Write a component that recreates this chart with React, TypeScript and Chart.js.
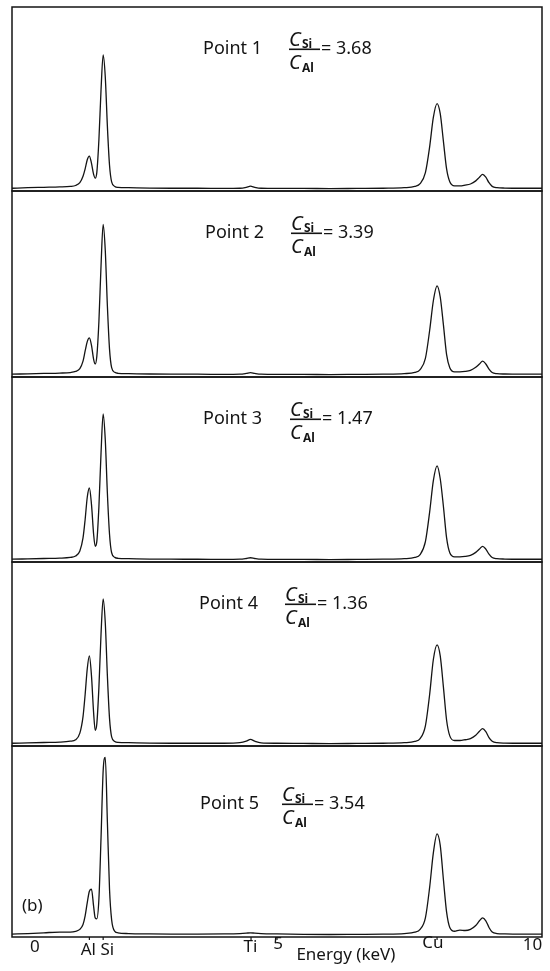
import React, { useEffect, useRef } from 'react';
import { Chart, registerables } from 'chart.js';

Chart.register(...registerables);

// Energy grid (keV)
const energies = [
  0, 0.3, 0.6, 0.9, 1.1, 1.2, 1.28, 1.34, 1.38, 1.42,
  1.46, 1.5, 1.54, 1.57, 1.6,
  1.64, 1.68, 1.72, 1.76, 1.8,
  1.84, 1.88, 1.94, 2.0, 2.2,
  2.6, 3.0, 3.5, 4.0, 4.3,
  4.42, 4.5, 4.58, 4.7, 5.0,
  5.5, 6.0, 6.5, 7.0, 7.4,
  7.6, 7.7, 7.8, 7.88, 7.95,
  8.02, 8.08, 8.14, 8.2, 8.26,
  8.35, 8.45, 8.55, 8.65, 8.75,
  8.82, 8.88, 8.94, 9.0, 9.06,
  9.15, 9.3, 9.6, 10,
];

// Intensities (% of panel height)
const point1 = [
  1.5, 1.8, 2.0, 2.2, 2.5, 3.0, 4.5, 8, 12, 17,
  19, 15, 9, 7, 10,
  28, 55, 74, 62, 35,
  14, 5, 2.5, 2.0, 1.8,
  1.6, 1.5, 1.5, 1.4, 1.5,
  2.0, 2.6, 2.0, 1.5, 1.4,
  1.4, 1.3, 1.4, 1.5, 1.8,
  2.5, 4, 10, 24, 40,
  47.5, 42, 27, 12, 5,
  2.8, 2.8, 3.2, 3.8, 5.5,
  7.5, 9, 7.5, 4.5, 2.5,
  1.8, 1.6, 1.5, 1.5,
];
const point2 = [
  1.5, 1.7, 1.9, 2.1, 2.4, 3.0, 4.5, 8.5, 14, 19,
  21, 17, 9.5, 7, 11,
  30, 60, 82, 68, 38,
  15, 5, 2.5, 2.0, 1.8,
  1.6, 1.5, 1.5, 1.4, 1.5,
  1.9, 2.3, 1.9, 1.5, 1.4,
  1.4, 1.3, 1.4, 1.5, 1.8,
  2.5, 4, 10, 25, 41,
  49, 43, 28, 12, 5,
  2.8, 2.8, 3.0, 3.6, 5.2,
  7.0, 8.5, 7.0, 4.2, 2.4,
  1.8, 1.6, 1.5, 1.5,
];
const point3 = [
  1.5, 1.7, 1.9, 2.1, 2.5, 3.2, 6, 13, 23, 35,
  40, 31, 15, 8.5, 11,
  30, 59, 80, 66, 37,
  15, 5, 2.5, 2.0, 1.8,
  1.6, 1.5, 1.5, 1.4, 1.5,
  1.9, 2.3, 1.9, 1.5, 1.4,
  1.4, 1.3, 1.4, 1.5, 1.8,
  2.5, 4, 11, 27, 44,
  52, 45, 30, 13, 5,
  2.8, 2.8, 3.0, 3.6, 5.2,
  7.0, 8.5, 7.0, 4.2, 2.4,
  1.8, 1.6, 1.5, 1.5,
];
const point4 = [
  1.5, 1.7, 1.9, 2.1, 2.6, 3.4, 7, 16, 28, 42,
  49, 38, 18, 8.5, 12,
  32, 61, 80, 67, 38,
  15, 5, 2.5, 2.0, 1.8,
  1.6, 1.5, 1.5, 1.5, 1.8,
  2.6, 3.6, 2.6, 1.7, 1.5,
  1.4, 1.3, 1.4, 1.5, 1.8,
  2.5, 4, 11, 28, 47,
  55, 49, 32, 14, 5.5,
  3.0, 3.0, 3.4, 4.0, 5.8,
  8.0, 9.4, 7.8, 4.6, 2.6,
  1.8, 1.6, 1.5, 1.5,
];
const point5 = [
  1.5, 1.8, 2.2, 2.6, 2.6, 3.0, 4.0, 6.5, 11, 18,
  24, 25, 16, 10, 9.5,
  20, 52, 87, 94, 60,
  25, 9, 3, 2.2, 1.8,
  1.6, 1.5, 1.5, 1.6, 1.8,
  2.0, 2.2, 2.0, 1.8, 1.6,
  1.4, 1.3, 1.4, 1.5, 1.8,
  2.5, 4, 10, 26, 44,
  54, 48, 30, 13, 5,
  3.0, 3.6, 3.4, 4.0, 6.0,
  8.5, 10, 8.5, 5, 2.6,
  1.8, 1.6, 1.5, 1.5,
];

const spectra = [point1, point2, point3, point4, point5];
const pointNames = ['Point 1', 'Point 2', 'Point 3', 'Point 4', 'Point 5'];
const ratios = ['3.68', '3.39', '1.47', '1.36', '3.54'];
const panelTag = '(b)';

// Bottom axis labels (energy where each label is centred)
const axisLabels = ['0', 'Al', 'Si', 'Ti', '5', 'Cu', '10'];
const axisLabelValues = [0.43, 1.44, 1.8, 4.5, 5.02, 7.94, 9.82];
const tickMarkValues = [1.46, 1.72, 4.51, 5, 8.02];
const axisTitle = 'Energy (keV)';
const axisTitleValue = 6.3;

const panelIds = ['p1', 'p2', 'p3', 'p4', 'p5'];
const panelWeights = [184, 186, 185, 184, 191];
const FONT = '"Noto Sans", "DejaVu Sans", sans-serif';
const INK = '#141414';

const edsPlugin = {
  id: 'edsDecor',
  afterDraw(chart: any) {
    const { ctx, chartArea, scales } = chart;
    const xs = scales.x;
    ctx.save();
    ctx.strokeStyle = INK;
    ctx.fillStyle = INK;
    ctx.lineWidth = 1.5;
    const left = chartArea.left;
    const width = chartArea.right - chartArea.left;
    const textOffsets = [47, 47, 47, 47, 63];
    const pointX = [203, 205, 203, 199, 200];
    const fracX = [289, 291, 290, 285, 282];
    panelIds.forEach((id, i) => {
      const s = scales[id];
      ctx.strokeRect(left, s.top, width, s.bottom - s.top);
      const base = s.top + textOffsets[i];
      // "Point n"
      ctx.textAlign = 'left';
      ctx.textBaseline = 'alphabetic';
      ctx.font = `18px ${FONT}`;
      ctx.fillText(pointNames[i], pointX[i], base);
      // fraction C_Si / C_Al
      const fx = fracX[i];
      const bar = base - 5;
      ctx.font = `italic 20px ${FONT}`;
      ctx.fillText('C', fx, bar - 3);
      ctx.fillText('C', fx, bar + 20);
      ctx.font = `bold 12px ${FONT}`;
      ctx.fillText('Si', fx + 13, bar - 1);
      ctx.fillText('Al', fx + 13, bar + 23);
      ctx.fillRect(fx, bar - 0.5, 31, 1.6);
      ctx.font = `18px ${FONT}`;
      ctx.fillText('= ' + ratios[i], fx + 32, base);
    });
    // panel tag
    const last = scales[panelIds[panelIds.length - 1]];
    ctx.font = `17px ${FONT}`;
    ctx.textAlign = 'left';
    ctx.fillText(panelTag, left + 10, last.bottom - 26);
    // tick marks
    const bottom = chartArea.bottom;
    ctx.lineWidth = 1.2;
    tickMarkValues.forEach((v) => {
      const px = xs.getPixelForValue(v);
      ctx.beginPath();
      ctx.moveTo(px, bottom);
      ctx.lineTo(px, bottom + 3);
      ctx.stroke();
    });
    // axis labels
    const labelBase = [15, 18, 18, 15, 12, 11, 13];
    ctx.textAlign = 'center';
    ctx.font = `17px ${FONT}`;
    axisLabels.forEach((t, i) => {
      ctx.fillText(t, xs.getPixelForValue(axisLabelValues[i]), bottom + labelBase[i]);
    });
    ctx.fillText(axisTitle, xs.getPixelForValue(axisTitleValue), bottom + 23);
    ctx.restore();
  },
};

export default function App() {
  const canvasRef = useRef<HTMLCanvasElement | null>(null);

  useEffect(() => {
    if (!canvasRef.current) return;
    const yScales: any = {};
    // stacked scales are laid out bottom-up, so register the last panel first
    for (let i = panelIds.length - 1; i >= 0; i--) {
      yScales[panelIds[i]] = {
        type: 'linear',
        position: 'left',
        stack: 'panels',
        stackWeight: panelWeights[i],
        min: 0,
        max: 100,
        display: false,
      };
    }
    const chart = new Chart(canvasRef.current, {
      type: 'line',
      data: {
        datasets: spectra.map((vals, i) => ({
          label: pointNames[i],
          yAxisID: panelIds[i],
          data: energies.map((e, k) => ({ x: e, y: vals[k] })),
          borderColor: INK,
          borderWidth: 1.3,
          pointRadius: 0,
          fill: false,
          cubicInterpolationMode: 'monotone' as const,
        })),
      },
      options: {
        animation: false,
        responsive: true,
        maintainAspectRatio: false,
        layout: { padding: { left: 12, right: 8, top: 7, bottom: 34 } },
        plugins: { legend: { display: false }, tooltip: { enabled: false } },
        scales: {
          x: { type: 'linear', min: 0, max: 10, display: false },
          ...yScales,
        },
      },
      plugins: [edsPlugin],
    });
    return () => chart.destroy();
  }, []);

  return (
    <div style={{ position: 'absolute', left: 0, top: 0, width: 550, height: 971, background: '#fff' }}>
      <canvas ref={canvasRef} />
    </div>
  );
}
